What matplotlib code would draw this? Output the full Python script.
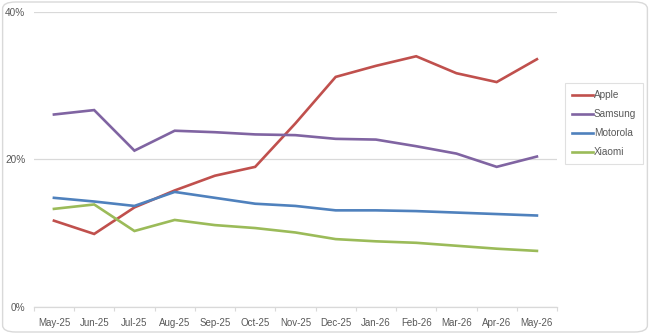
import matplotlib.pyplot as plt
from matplotlib.patches import FancyBboxPatch
from matplotlib.ticker import FixedLocator, FuncFormatter

months = ["May-25", "Jun-25", "Jul-25", "Aug-25", "Sep-25", "Oct-25", "Nov-25",
          "Dec-25", "Jan-26", "Feb-26", "Mar-26", "Apr-26", "May-26"]

apple = [11.7, 9.9, 13.5, 15.8, 17.8, 19.0, 24.9, 31.2, 32.7, 34.0, 31.7, 30.5, 33.6]
samsung = [26.1, 26.7, 21.2, 23.9, 23.7, 23.4, 23.3, 22.8, 22.7, 21.8, 20.8, 19.0, 20.4]
motorola = [14.8, 14.3, 13.7, 15.6, 14.8, 14.0, 13.7, 13.1, 13.1, 13.0, 12.8, 12.6, 12.4]
xiaomi = [13.3, 13.9, 10.3, 11.8, 11.1, 10.7, 10.1, 9.2, 8.9, 8.7, 8.3, 7.9, 7.6]

series = {"Apple": (apple, "#C0504D"),
          "Samsung": (samsung, "#8064A2"),
          "Motorola": (motorola, "#4F81BD"),
          "Xiaomi": (xiaomi, "#9BBB59")}

plt.rcParams['font.family'] = ['Liberation Sans', 'DejaVu Sans']

fig = plt.figure(figsize=(6.5, 3.34), dpi=100)
fig.patches.append(FancyBboxPatch((0.004, 0.006), 0.992, 0.988,
                                  boxstyle="round,pad=0,rounding_size=0.02",
                                  transform=fig.transFigure, facecolor="none",
                                  edgecolor="#D9D9D9", linewidth=1.0, zorder=-1))

ax = fig.add_axes([0.052, 0.081, 0.805, 0.883])
ax.set_facecolor("none")

x = list(range(len(months)))
for name, (vals, col) in series.items():
    ax.plot(x, vals, color=col, lw=1.9, label=name, solid_joinstyle="miter")

ax.set_xlim(-0.5, len(months) - 0.5)
ax.set_ylim(0, 40)
ax.set_yticks([0, 20, 40])
ax.yaxis.set_major_formatter(FuncFormatter(lambda v, p: "{:.0f}%".format(v)))
ax.grid(axis="y", color="#D9D9D9", lw=0.9)
ax.set_axisbelow(True)

ax.set_xticks(x)
ax.set_xticklabels(months)
ax.xaxis.set_minor_locator(FixedLocator([i - 0.5 for i in range(len(months) + 1)]))
ax.tick_params(axis="x", which="major", length=0, pad=8, labelsize=7, labelcolor="#595959")
ax.tick_params(axis="x", which="minor", length=3, color="#D9D9D9", width=0.8)
ax.tick_params(axis="y", length=0, pad=6, labelsize=7.2, labelcolor="#595959")

for s in ["top", "right", "left"]:
    ax.spines[s].set_visible(False)
ax.spines["bottom"].set_color("#D9D9D9")
ax.spines["bottom"].set_linewidth(0.9)

leg = ax.legend(loc="upper left", bbox_to_anchor=(1.005, 0.776), fontsize=7.2,
                frameon=True, fancybox=False, handlelength=2.1, handletextpad=0.1,
                labelspacing=0.9, borderpad=0.7, borderaxespad=0.5,
                labelcolor="#595959")
leg.get_frame().set_edgecolor("#D9D9D9")
leg.get_frame().set_linewidth(0.8)

fig.savefig("out.png", dpi=100)
